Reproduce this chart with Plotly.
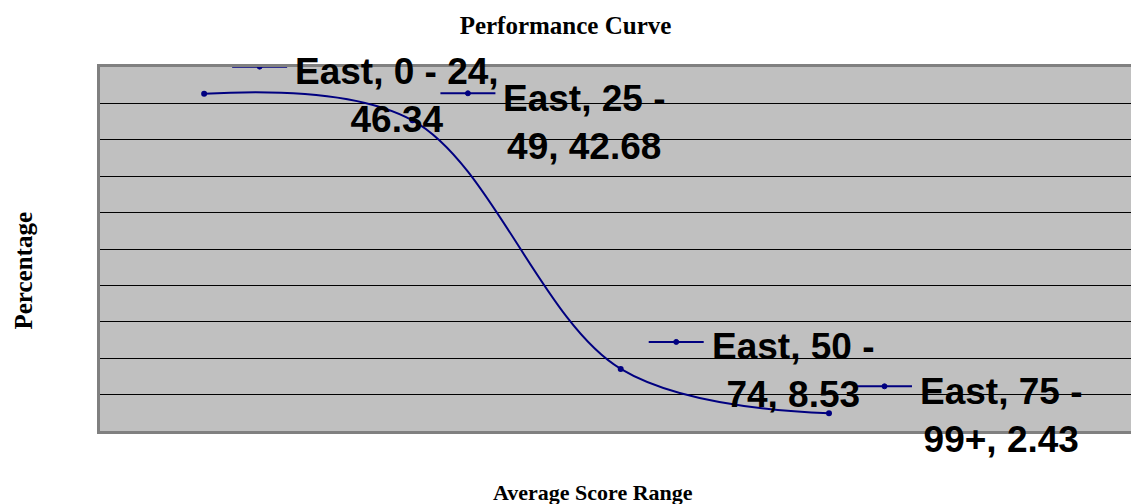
import textwrap
import plotly.graph_objects as go

# ---- data ----
series_name = "East"
categories = ["0 - 24", "25 - 49", "50 - 74", "75 - 99+"]
values = [46.34, 42.68, 8.53, 2.43]

title_text = "Performance Curve"
x_title = "Average Score Range"
y_title = "Percentage"

NAVY = "#000080"
xs = list(range(len(categories)))

fig = go.Figure()
fig.add_trace(go.Scatter(
    x=xs, y=values, mode="lines+markers",
    line=dict(color=NAVY, width=2, shape="spline", smoothing=1.0),
    marker=dict(color=NAVY, size=6),
    hoverinfo="skip", showlegend=False,
))

annotations = []
shapes = []
for xi, cat, val in zip(xs, categories, values):
    label = f"{series_name}, {cat}, {val:.2f}"
    lines = textwrap.wrap(label, width=13)
    annotations.append(dict(
        x=xi, y=val, xref="x", yref="y", showarrow=False,
        text="<br>".join(lines), xanchor="left", yanchor="middle",
        xshift=89, yshift=-2, align="center",
        font=dict(family="Liberation Sans, Arial, sans-serif", size=37, color="black", weight="bold"),
    ))
    # legend-key style mark next to the label
    shapes.append(dict(
        type="line", xref="x", yref="y", xsizemode="pixel", ysizemode="pixel",
        xanchor=xi, yanchor=val, x0=28, x1=83, y0=27, y1=27,
        line=dict(color=NAVY, width=2),
    ))
    shapes.append(dict(
        type="circle", xref="x", yref="y", xsizemode="pixel", ysizemode="pixel",
        xanchor=xi, yanchor=val, x0=53, x1=58, y0=24.5, y1=29.5,
        line=dict(color=NAVY, width=1), fillcolor=NAVY,
    ))

serif = "Liberation Serif, Times New Roman, serif"
fig.update_layout(
    width=1131, height=504,
    margin=dict(l=100, r=0, t=67, b=73),
    paper_bgcolor="white", plot_bgcolor="#C0C0C0",
    title=dict(text=title_text, x=0.5, xanchor="center", y=0.95, yanchor="middle",
               font=dict(family=serif, size=25, color="black", weight="bold")),
    annotations=annotations + [
        dict(text=y_title, xref="paper", yref="paper", x=-0.074, y=0.44, textangle=-90,
             showarrow=False, xanchor="center", yanchor="middle",
             font=dict(family=serif, size=25, color="black", weight="bold")),
        dict(text=x_title, xref="paper", yref="paper", x=0.478, y=-0.168,
             showarrow=False, xanchor="center", yanchor="middle",
             font=dict(family=serif, size=22, color="black", weight="bold")),
    ],
    shapes=shapes,
    xaxis=dict(range=[-0.5, 4.45], showgrid=False, zeroline=False, showticklabels=False,
               showline=True, linecolor="#808080", linewidth=3, mirror=True, ticks=""),
    yaxis=dict(range=[0, 50], dtick=5, showgrid=True, gridcolor="black", gridwidth=1.3,
               zeroline=False, showticklabels=False, showline=True, linecolor="#808080",
               linewidth=3, ticks=""),
)

fig.write_html("out.html", config={"displayModeBar": False},
               post_script="document.body.style.margin='0';document.body.style.overflow='hidden';")
